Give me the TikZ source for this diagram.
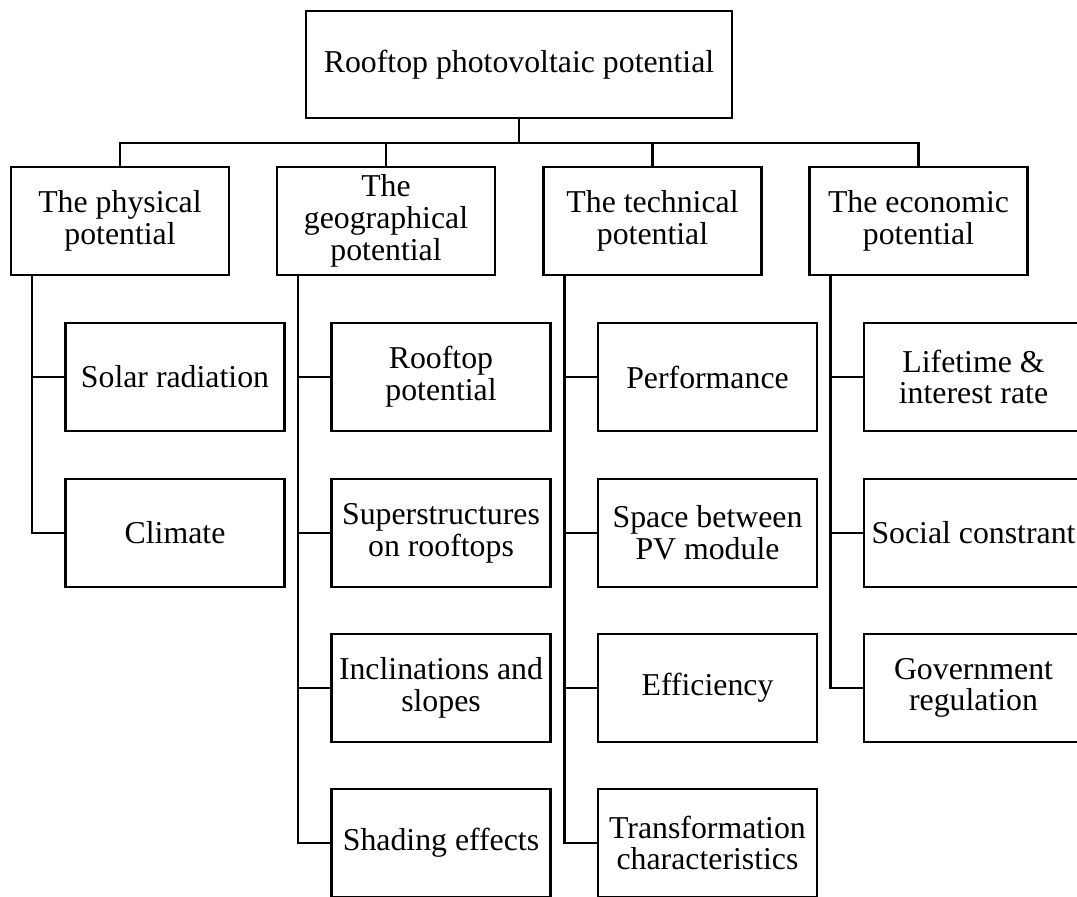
\documentclass[tikz,border=0pt]{standalone}
\usepackage{fontspec}
\setmainfont{Liberation Serif}
\begin{document}
\begin{tikzpicture}[x=0.5pt,y=-0.5pt,
  box/.style={draw,line width=1.25pt,rectangle,align=center,inner sep=0pt,
              font=\fontsize{15.9}{15.9}\selectfont},
  rootbox/.style={box,minimum width=213pt,minimum height=53.5pt},
  catbox/.style={box,minimum width=109pt,minimum height=54pt},
  itembox/.style={box,minimum width=109.5pt,minimum height=54pt},
  link/.style={line width=1.25pt}]
\clip (0,0) rectangle (1077,897);

% root
\node[rootbox] (root) at (519,64.5) {Rooftop photovoltaic potential};

% four kinds of potential
\node[catbox] (p1) at (120,221) {The physical\\potential};
\node[catbox] (p2) at (386,221) {The\\geographical\\potential};
\node[catbox] (p3) at (652.5,221) {The technical\\potential};
\node[catbox] (p4) at (918.5,221) {The economic\\potential};

% physical
\node[itembox] (a1) at (175,377) {Solar radiation};
\node[itembox] (a2) at (175,533) {Climate};
% geographical
\node[itembox] (b1) at (441,377) {Rooftop\\potential};
\node[itembox] (b2) at (441,533) {Superstructures\\on rooftops};
\node[itembox] (b3) at (441,688) {Inclinations and\\slopes};
\node[itembox] (b4) at (441,843) {Shading effects};
% technical
\node[itembox] (t1) at (707.5,377) {Performance};
\node[itembox] (t2) at (707.5,533) {Space between\\PV module};
\node[itembox] (t3) at (707.5,688) {Efficiency};
\node[itembox] (t4) at (707.5,843) {Transformation\\characteristics};
% economic
\node[itembox] (e1) at (973.5,377) {Lifetime \&\\interest rate};
\node[itembox] (e2) at (973.5,533) {Social constrant};
\node[itembox] (e3) at (973.5,688) {Government\\regulation};

% top-level bus
\coordinate (bus) at (519,143);
\draw[link] (root.south) -- (bus);
\draw[link] (p1.north) |- (bus) -| (p4.north);
\draw[link] (p2.north) -- (p2.north |- bus);
\draw[link] (p3.north) -- (p3.north |- bus);

% trunks to the items of each column
\foreach \p/\items in {p1/{a1,a2},p2/{b1,b2,b3,b4},p3/{t1,t2,t3,t4},p4/{e1,e2,e3}}{
  \foreach \i in \items{
    \draw[link] ([xshift=11pt]\p.south west) |- (\i.west);
  }
}
\end{tikzpicture}
\end{document}
